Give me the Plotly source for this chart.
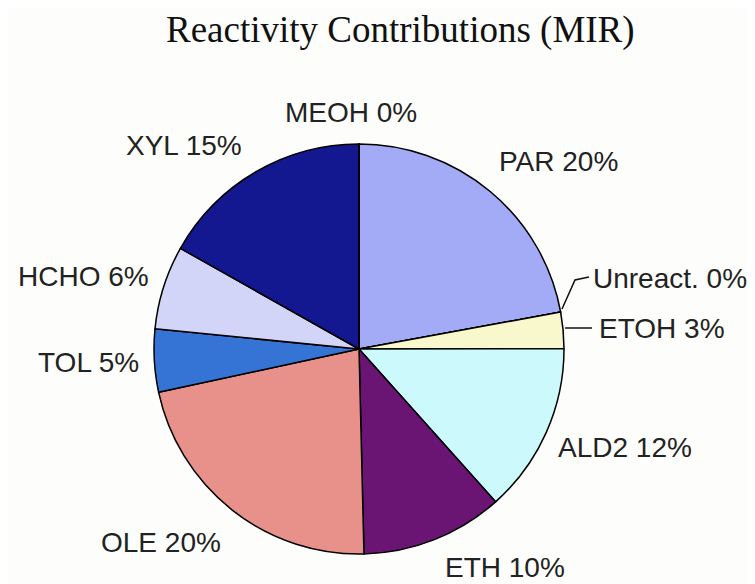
import plotly.graph_objects as go

# page has an 8px body margin, so the figure is 8px smaller in each direction
OFF = 8
W, H = 755 - OFF, 584 - OFF

species = ["PAR", "Unreact.", "ETOH", "ALD2", "ETH", "OLE", "TOL", "HCHO", "XYL", "MEOH"]
values = [20.1, 0.0, 2.6, 12.2, 10.2, 20.0, 4.5, 6.0, 15.3, 0.0]
label_pct = ["20%", "0%", "3%", "12%", "10%", "20%", "5%", "6%", "15%", "0%"]
colors = ["#A3AAF6", "#FFFFFF", "#F8F8CC", "#CCFAFC", "#6A1474", "#E8918A",
          "#3574D4", "#D2D4F8", "#141890", "#000000"]

# label anchor positions in reference pixels (x, y, xanchor)
label_pos = {
    "PAR": (558, 161, "center"),
    "Unreact.": (591, 278, "left"),
    "ETOH": (597, 328, "left"),
    "ALD2": (625, 447, "center"),
    "ETH": (505, 567, "center"),
    "OLE": (161, 542, "center"),
    "TOL": (88, 362, "center"),
    "HCHO": (83, 276, "center"),
    "XYL": (184, 145, "center"),
    "MEOH": (351, 112, "center"),
}

def px(x, y):
    return (x - OFF) / W, 1 - (y - OFF) / H

cx, cy, r = 359, 349, 205
x0, y1 = px(cx - r, cy - r)
x1, y0 = px(cx + r, cy + r)

fig = go.Figure(go.Pie(
    labels=species,
    values=values,
    sort=False,
    direction="clockwise",
    rotation=0,
    textinfo="none",
    hoverinfo="label+percent",
    marker=dict(colors=colors, line=dict(color="#000000", width=1.5)),
    domain=dict(x=[x0, x1], y=[y0, y1]),
    showlegend=False,
))

annotations = []
for s, p in zip(species, label_pct):
    x, y, anc = label_pos[s]
    ax, ay = px(x, y)
    annotations.append(dict(
        x=ax, y=ay, xref="paper", yref="paper", xanchor=anc, yanchor="middle",
        text=f"{s} {p}", showarrow=False,
        font=dict(family="Liberation Sans, Arial", size=28, color="#222222"),
    ))

tx, ty = px(400, 30)
annotations.append(dict(
    x=tx, y=ty, xref="paper", yref="paper", xanchor="center", yanchor="middle",
    text="Reactivity Contributions (MIR)", showarrow=False,
    font=dict(family="Liberation Serif, Times New Roman", size=37, color="#111111"),
))

def path(pts):
    s = ""
    for i, (x, y) in enumerate(pts):
        X, Y = px(x, y)
        s += ("M" if i == 0 else "L") + f"{X},{Y} "
    return s

shapes = [
    dict(type="path", xref="paper", yref="paper", path=path([(562, 309), (575, 280), (589, 277)]),
         line=dict(color="#111111", width=1.5)),
    dict(type="path", xref="paper", yref="paper", path=path([(565, 328), (592, 328)]),
         line=dict(color="#111111", width=1.5)),
]

fig.update_layout(
    width=W, height=H,
    margin=dict(l=0, r=0, t=0, b=0),
    paper_bgcolor="#FDFEFB",
    plot_bgcolor="#FDFEFB",
    annotations=annotations,
    shapes=shapes,
)

fig.write_html("out.html")
